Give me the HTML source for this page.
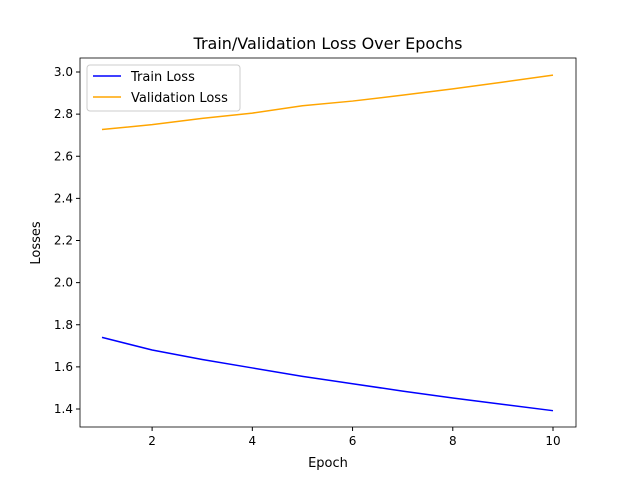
<!DOCTYPE html>
<html><head><meta charset="utf-8"><style>
body{margin:0;background:#fff}
svg{display:block;font-family:"DejaVu Sans","Liberation Sans",sans-serif}
</style></head><body>
<svg id="chart" width="640" height="480">
<rect width="640" height="480" fill="#fff"/>
<text x="328" y="49" text-anchor="middle" font-size="16">Train/Validation Loss Over Epochs</text>
<g id="axes"></g>
<text x="328" y="467" text-anchor="middle" font-size="13">Epoch</text>
<text transform="translate(40,243) rotate(-90)" text-anchor="middle" font-size="13">Losses</text>
</svg>
<script>
const epochs=[1,2,3,4,5,6,7,8,9,10];
const trainLoss=[1.74,1.68,1.635,1.595,1.555,1.52,1.485,1.452,1.422,1.392];
const valLoss=[2.727,2.75,2.78,2.805,2.84,2.862,2.89,2.92,2.952,2.985];
const xTicks=[2,4,6,8,10];
const yTicks=[1.4,1.6,1.8,2.0,2.2,2.4,2.6,2.8,3.0];
const L=80,R=576,T=58,B=427;
const x=v=>102+(v-1)*(553-102)/9;
const y=v=>409-(v-1.4)*(409-72)/1.6;
const NS='http://www.w3.org/2000/svg';
const g=document.getElementById('axes');
function el(t,a,p){const e=document.createElementNS(NS,t);for(const k in a)e.setAttribute(k,a[k]);(p||g).appendChild(e);return e;}
xTicks.forEach(v=>{
 const l=el('line',{x1:x(v),x2:x(v),y1:B,y2:B+4,stroke:'#000'});
 
 
 const t=el('text',{x:x(v),y:B+18,'text-anchor':'middle','font-size':12});
 t.textContent=v;
 
 
});
yTicks.forEach(v=>{
 const l=el('line',{x1:L-4,x2:L,y1:y(v),y2:y(v),stroke:'#000'});
 
 
 const t=el('text',{x:L-7,y:y(v)+4,'text-anchor':'end','font-size':12});
 t.textContent=v.toFixed(1);
 
 
});
function line(vals,color,name){
 const p=el('polyline',{points:vals.map((v,i)=>x(epochs[i])+','+y(v)).join(' '),fill:'none',stroke:color,'stroke-width':1.5});
 
 
}
line(trainLoss,'#0000ff','train-loss-line');
line(valLoss,'#ffa500','validation-loss-line');
const f=el('rect',{x:L,y:T,width:R-L,height:B-T,fill:'none',stroke:'#000','stroke-width':0.8});


const lg=el('g',{});


el('rect',{x:87,y:65,width:153,height:46,rx:3,fill:'#fff',stroke:'#ccc'},lg);
el('line',{x1:93,x2:121,y1:76,y2:76,stroke:'#0000ff','stroke-width':1.5},lg);
el('line',{x1:93,x2:121,y1:97,y2:97,stroke:'#ffa500','stroke-width':1.5},lg);
const t1=el('text',{x:131,y:81,'font-size':13},lg);t1.textContent='Train Loss';


const t2=el('text',{x:131,y:102,'font-size':13},lg);t2.textContent='Validation Loss';


</script>
</body></html>
